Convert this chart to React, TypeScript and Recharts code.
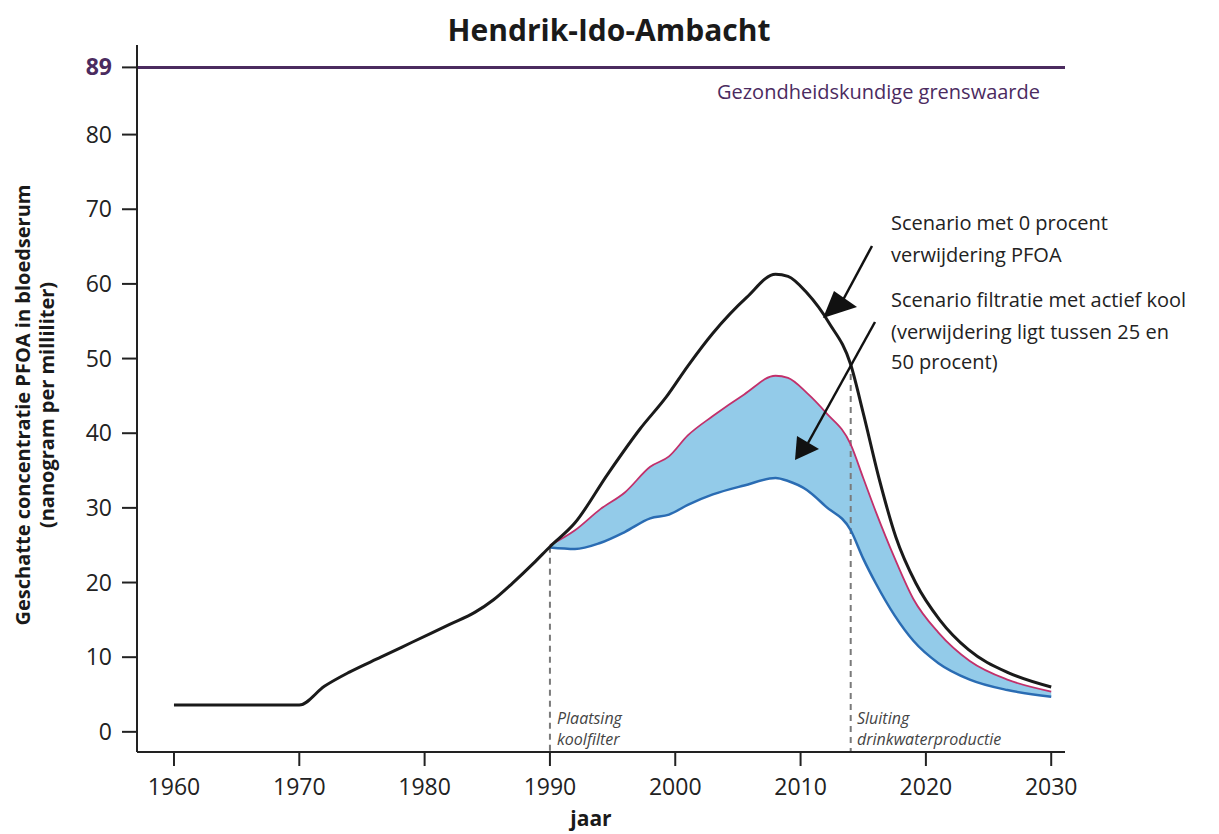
import React from 'react';
import {
  ComposedChart,
  Line,
  Area,
  XAxis,
  YAxis,
  ReferenceLine,
} from 'recharts';

// Scenario without any PFOA removal (black line)
const noFilterYears = [
  1960, 1970, 1972, 1974, 1976.5, 1979, 1982, 1984, 1985.5, 1987, 1988.7, 1990,
  1992, 1994.6, 1997.2, 1999.3, 2001, 2003, 2005.7, 2008, 2009, 2010.5, 2012.3,
  2014, 2015, 2016.3, 2017.6, 2019.2, 2021.1, 2023.4, 2026.6, 2030,
];
const noFilterValues = [
  3.6, 3.6, 6.1, 8.0, 10.0, 12.0, 14.4, 16.0, 17.7, 19.9, 22.6, 24.8,
  28.0, 34.5, 40.6, 44.9, 49.0, 53.4, 58.2, 61.3, 61.0, 58.8, 54.7,
  49.2, 42.7, 33.7, 26.1, 19.9, 15.0, 11.0, 7.9, 6.0,
];

// Active carbon filtration scenario: band between 50% (low) and 25% (high) removal
const filterYears = [
  1990, 1992, 1994, 1996, 1998, 1999.5, 2001, 2003, 2005.5, 2008, 2009, 2010.5,
  2012, 2014, 2015, 2016, 2017.5, 2019, 2021, 2023.5, 2026.5, 2030,
];
const filterHigh = [
  25.0, 27.0, 29.8, 32.1, 35.5, 36.9, 39.7, 42.3, 45.2, 47.7, 47.4, 45.4,
  42.8, 38.5, 34.0, 29.5, 23.3, 17.8, 13.3, 9.5, 7.0, 5.4,
];
const filterLow = [
  24.7, 24.5, 25.3, 26.8, 28.6, 29.1, 30.4, 31.8, 33.0, 34.0, 33.6, 32.4,
  30.2, 27.0, 23.2, 19.9, 15.6, 12.2, 9.2, 7.0, 5.6, 4.7,
];

const xTicks = [1960, 1970, 1980, 1990, 2000, 2010, 2020, 2030];
const yTicks = [0, 10, 20, 30, 40, 50, 60, 70, 80, 89];
const limitValue = 89;
const eventYears = [1990, 2014];
const eventTops = [24.8, 49.4];

const FONT = "'Open Sans', 'Noto Sans', sans-serif";
const PURPLE = '#4b2b5f';

const noFilterRows = noFilterYears.map((year, i) => ({ year, value: noFilterValues[i] }));
const filterRows = filterYears.map((year, i) => ({
  year,
  low: filterLow[i],
  high: filterHigh[i],
  range: [filterLow[i], filterHigh[i]],
}));

const YTick = (props: any) => {
  const { x, y, payload } = props;
  const isLimit = payload.value === limitValue;
  return (
    <text
      x={x}
      y={y}
      dy="0.35em"
      textAnchor="end"
      fontFamily={FONT}
      fontSize={23}
      fontWeight={isLimit ? 700 : 400}
      fill={isLimit ? PURPLE : '#222'}
    >
      {payload.value}
    </text>
  );
};

const XTick = (props: any) => {
  const { x, y, payload } = props;
  return (
    <text x={x} y={y} dy="0.9em" textAnchor="middle" fontFamily={FONT} fontSize={23} fill="#222">
      {payload.value}
    </text>
  );
};

const App: React.FC = () => {
  return (
    <div style={{ position: 'absolute', left: 0, top: 0, width: 1219, height: 834, background: '#fff' }}>
      <ComposedChart width={1219} height={834} margin={{ top: 45, right: 154, bottom: 22, left: 77 }}>
        <XAxis
          dataKey="year"
          type="number"
          domain={[1957.05, 2031.1]}
          ticks={xTicks}
          tick={<XTick />}
          tickSize={14}
          tickMargin={8}
          height={60}
          stroke="#222"
          strokeWidth={2}
          allowDuplicatedCategory={false}
        />
        <YAxis
          type="number"
          domain={[-2.7, 92]}
          ticks={yTicks}
          tick={<YTick />}
          tickSize={15}
          tickMargin={10}
          width={60}
          stroke="#222"
          strokeWidth={2}
        />
        <ReferenceLine y={limitValue} stroke={PURPLE} strokeWidth={3} />
        <Area
          data={filterRows}
          dataKey="range"
          type="monotone"
          stroke="none"
          fill="#93cbe9"
          fillOpacity={1}
          isAnimationActive={false}
        />
        {eventYears.map((yr, i) => (
          <ReferenceLine
            key={yr}
            segment={[
              { x: yr, y: eventTops[i] },
              { x: yr, y: -2.7 },
            ]}
            stroke="#7a7a7a"
            strokeWidth={2}
            strokeDasharray="6 5"
          />
        ))}
        <Line
          data={filterRows}
          dataKey="low"
          type="monotone"
          stroke="#2a6cb3"
          strokeWidth={2.5}
          dot={false}
          isAnimationActive={false}
        />
        <Line
          data={filterRows}
          dataKey="high"
          type="monotone"
          stroke="#c2306b"
          strokeWidth={1.8}
          dot={false}
          isAnimationActive={false}
        />
        <Line
          data={noFilterRows}
          dataKey="value"
          type="monotone"
          stroke="#1a1a1a"
          strokeWidth={3}
          dot={false}
          isAnimationActive={false}
        />
      </ComposedChart>

      <svg
        width={1219}
        height={834}
        style={{ position: 'absolute', left: 0, top: 0, pointerEvents: 'none' }}
        fontFamily={FONT}
      >
        <text x={609} y={41} textAnchor="middle" fontSize={30} fontWeight={700} fill="#1a1a1a">
          Hendrik-Ido-Ambacht
        </text>
        <text x={1040} y={99} textAnchor="end" fontSize={20} fill={PURPLE}>
          Gezondheidskundige grenswaarde
        </text>
        <text fontSize={20} fill="#222">
          <tspan x={891} y={230}>Scenario met 0 procent</tspan>
          <tspan x={891} y={262}>verwijdering PFOA</tspan>
          <tspan x={891} y={307}>Scenario filtratie met actief kool</tspan>
          <tspan x={891} y={339}>(verwijdering ligt tussen 25 en</tspan>
          <tspan x={891} y={369}>50 procent)</tspan>
        </text>
        <line x1={872} y1={246} x2={843} y2={300} stroke="#111" strokeWidth={2.5} />
        <polygon points="823,318 834,291 857,307" fill="#111" />
        <line x1={875} y1={322} x2={808} y2={443} stroke="#111" strokeWidth={2.5} />
        <polygon points="795,460 797,436 819,449" fill="#111" />
        <text fontSize={16} fontStyle="italic" fill="#444">
          <tspan x={557} y={724}>Plaatsing</tspan>
          <tspan x={557} y={745}>koolfilter</tspan>
          <tspan x={857} y={724}>Sluiting</tspan>
          <tspan x={857} y={745}>drinkwaterproductie</tspan>
        </text>
        <text x={591} y={826} textAnchor="middle" fontSize={21} fontWeight={700} fill="#1a1a1a">
          jaar
        </text>
        <text transform="translate(30 405) rotate(-90)" textAnchor="middle" fontSize={20} fontWeight={700} fill="#1a1a1a">
          Geschatte concentratie PFOA in bloedserum
        </text>
        <text transform="translate(54 405) rotate(-90)" textAnchor="middle" fontSize={20} fontWeight={700} fill="#1a1a1a">
          (nanogram per milliliter)
        </text>
      </svg>
    </div>
  );
};

export default App;
